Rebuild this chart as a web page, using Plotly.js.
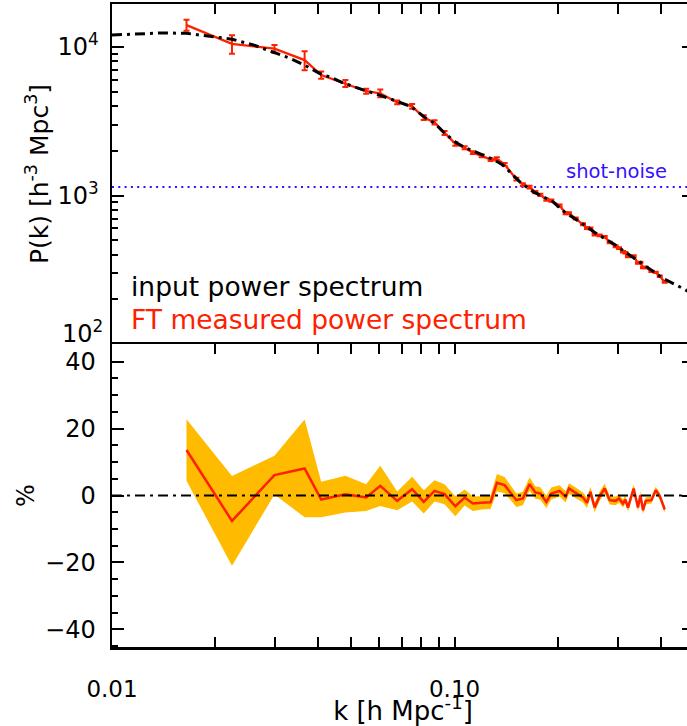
<!DOCTYPE html>
<html><head><meta charset="utf-8">
<script src="https://cdn.plot.ly/plotly-3.0.1.min.js"></script>
<style>html,body{margin:0;padding:0;overflow:hidden;width:687px;height:726px;background:#fff}#chart{width:700px;height:726px}</style>
</head><body><div id="chart"></div>
<script>
// Input (theory) power spectrum
const kInput = [0.010, 0.012, 0.014, 0.0165, 0.019, 0.0224, 0.026, 0.0298, 0.0333, 0.0365, 0.0408, 0.0431, 0.0477, 0.055, 0.0604, 0.0683, 0.0747, 0.0826, 0.0875, 0.0936, 0.1012, 0.1069, 0.113, 0.121, 0.1294, 0.1384, 0.1465, 0.155, 0.162, 0.1695, 0.1937, 0.212, 0.232, 0.259, 0.29, 0.324, 0.363, 0.406, 0.454, 0.50];
const pInput = [12050, 12300, 12450, 12380, 11900, 11300, 10300, 9200, 8350, 7550, 6560, 6310, 5690, 5080, 4750, 4290, 3966, 3311, 3063, 2623, 2270, 2113, 1995, 1875, 1754, 1604, 1409, 1239, 1146, 1062, 908, 758, 666, 556, 476, 397, 331, 277, 243, 215];

// FT measured power spectrum
const kMeasured = [0.0165, 0.0224, 0.0298, 0.0365, 0.0408, 0.0480, 0.0552, 0.0607, 0.0680, 0.0752, 0.0813, 0.0874, 0.0935, 0.1005, 0.1070, 0.1131, 0.1200, 0.1274, 0.1329, 0.1400, 0.1515, 0.1583, 0.1656, 0.1721, 0.1780, 0.1853, 0.1916, 0.2026, 0.2110, 0.2158, 0.2257, 0.2371, 0.2436, 0.2492, 0.2564, 0.2652, 0.2743, 0.2837, 0.2954, 0.3020, 0.3102, 0.3152, 0.3208, 0.3333, 0.3431, 0.3487, 0.3549, 0.3614, 0.3755, 0.3866, 0.3972, 0.4108];
const pMeasured = [14060, 10500, 9750, 8170, 6480, 5690, 5040, 4880, 4240, 3990, 3350, 3110, 2640, 2230, 2100, 1945, 1850, 1745, 1765, 1620, 1290, 1185, 1140, 1055, 1010, 940, 925, 855, 760, 760, 700, 640, 605, 600, 547, 539, 527, 483, 455, 443, 418, 412, 389, 391, 351, 354, 328, 328, 309, 304, 286, 262];
const pMeasuredErr = [1200, 1500, 580, 1200, 370, 310, 200, 290, 120, 150, 117, 100, 79, 67, 50, 43, 37, 35, 46, 39, 26, 24, 23, 20, 19, 17, 17, 15, 13, 12, 11, 10, 9, 9, 8, 8, 7, 6, 6, 6, 5, 5, 5, 5, 4, 4, 4, 4, 3, 3, 3, 3];

// Percent difference (measured vs input) and its 1-sigma half width
const pctDiff = [13.6, -7.6, 6.1, 8.1, -1.2, 0.4, -0.6, 2.9, -1.6, 1.9, -1.9, 1.4, 0.4, -3.2, -0.6, -2.4, -2.2, -2.0, 3.8, 3.1, -1.4, -0.9, 3.4, 0.9, 0.6, -1.9, 0.6, 1.4, -0.4, 2.1, 0.8, -0.6, -2.2, 1.1, -3.6, -0.2, 2.1, -1.4, -1.6, -0.9, -2.4, -1.2, -3.6, 2.1, -3.6, 0.1, -4.4, -1.6, -1.4, 1.6, -0.2, -4.2];
const pctErr = [9.2, 13.4, 5.8, 14.6, 5.3, 5.5, 4.0, 6.0, 2.8, 3.7, 3.5, 3.2, 3.0, 3.0, 2.4, 2.2, 2.0, 2.0, 2.6, 2.4, 2.0, 2.0, 2.0, 1.9, 1.9, 1.8, 1.8, 1.7, 1.7, 1.6, 1.6, 1.5, 1.5, 1.5, 1.4, 1.4, 1.4, 1.3, 1.3, 1.3, 1.2, 1.2, 1.2, 1.2, 1.1, 1.1, 1.1, 1.1, 1.0, 1.0, 1.0, 1.0];

const shotNoiseLevel = 1140;
const zeroLevel = 0;
// x ticks: every 1..9 x 10^n, labels only on decades
const xAllTickVals = [0.01, 0.02, 0.03, 0.04, 0.05, 0.06, 0.07, 0.08, 0.09, 0.1, 0.2, 0.3, 0.4, 0.5];
const xAllTickText = ['0.01', '', '', '', '', '', '', '', '', '0.10', '', '', '', ''];
const xDecadeTickVals = [0.01, 0.1];
const pTickVals = [100, 1000, 10000];
const pTickText = ['', '10<sup>3</sup>', '10<sup>4</sup>'];
const pBottomLabel = '10<sup>2</sup>';
const kRange = [0.01, 0.5];
const pRange = [100, 19500];
const pctRange = [-45.3, 45.3];
const pctTickVals = [-40, -20, 0, 20, 40];

const RED = '#ff2000', BAND = '#ffbb00', BLUE = '#3311ff';
const FONT = 'DejaVu Sans';

const bandLow = pctDiff.map((v, i) => v - pctErr[i]);
const bandHigh = pctDiff.map((v, i) => v + pctErr[i]);

const traces = [
  {x: kMeasured, y: bandLow, xaxis: 'x', yaxis: 'y', mode: 'lines', line: {width: 0, color: BAND}, showlegend: false, hoverinfo: 'skip'},
  {x: kMeasured, y: bandHigh, xaxis: 'x', yaxis: 'y', mode: 'lines', line: {width: 0, color: BAND}, fill: 'tonexty', fillcolor: BAND, showlegend: false, hoverinfo: 'skip'},
  {x: kMeasured, y: pctDiff, xaxis: 'x', yaxis: 'y', mode: 'lines', line: {color: RED, width: 2.5}, showlegend: false},
  {x: kMeasured, y: pMeasured, xaxis: 'x2', yaxis: 'y2', mode: 'lines', line: {color: RED, width: 2.3},
   error_y: {type: 'data', array: pMeasuredErr, visible: true, color: RED, thickness: 2, width: 3}, showlegend: false},
  {x: kInput, y: pInput, xaxis: 'x2', yaxis: 'y2', mode: 'lines', line: {color: 'black', width: 3, dash: '10px,5px,3px,5px'}, showlegend: false}
];

const logR = r => [Math.log10(r[0]), Math.log10(r[1])];
const splitY = 0.4712;

const common = {showline: true, linecolor: 'black', linewidth: 2.5, ticks: 'inside', tickcolor: 'black', tickwidth: 2, showgrid: false, zeroline: false};
const tickOnly = {showline: false, ticks: 'inside', tickcolor: 'black', tickwidth: 2, showgrid: false, zeroline: false, showticklabels: false, type: 'log', range: logR(kRange), tickmode: 'array', tickvals: xDecadeTickVals, ticklen: 20};

const layout = {
  width: 700, height: 726,
  margin: {l: 112, r: 6, t: 4, b: 79},
  paper_bgcolor: 'white', plot_bgcolor: 'white',
  font: {family: FONT, size: 22, color: 'black'},
  showlegend: false,
  xaxis: Object.assign({}, common, {
    type: 'log', range: logR(kRange), domain: [0, 1], anchor: 'y', mirror: 'ticks',
    tickmode: 'array', tickvals: xAllTickVals, ticktext: xAllTickText, ticklen: 10,
    ticklabelstandoff: 20, tickfont: {size: 23},
    title: {text: 'k [h Mpc<sup>-1</sup>]', standoff: 11, font: {size: 26}}
  }),
  xaxis3: Object.assign({}, tickOnly, {overlaying: 'x', anchor: 'y', side: 'bottom', mirror: 'ticks'}),
  yaxis: Object.assign({}, common, {
    range: pctRange, domain: [0, splitY], anchor: 'x', mirror: 'ticks',
    tickmode: 'array', tickvals: pctTickVals, ticklen: 12, ticklabelstandoff: 9, tickfont: {size: 24},
    minor: {tickmode: 'linear', dtick: 5, tick0: 0, ticks: 'inside', ticklen: 6, tickwidth: 2, tickcolor: 'black'},
    title: {text: '%', standoff: 4, font: {size: 24}}
  }),
  xaxis2: Object.assign({}, common, {
    type: 'log', range: logR(kRange), domain: [0, 1], anchor: 'y2', side: 'top', mirror: false,
    tickmode: 'array', tickvals: xAllTickVals, ticklen: 10, showticklabels: false
  }),
  xaxis4: Object.assign({}, tickOnly, {overlaying: 'x2', anchor: 'y2', side: 'top'}),
  yaxis2: Object.assign({}, common, {
    type: 'log', range: logR(pRange), domain: [splitY, 1], anchor: 'x2', mirror: 'ticks',
    tickmode: 'array', tickvals: pTickVals, ticktext: pTickText, ticklen: 12, ticklabelstandoff: 6, tickfont: {size: 24},
    minor: {dtick: 'D1', ticks: 'inside', ticklen: 6, tickwidth: 2, tickcolor: 'black'},
    title: {text: 'P(k) [h<sup>-3</sup> Mpc<sup>3</sup>]', standoff: 2, font: {size: 25}}
  }),
  shapes: [
    {type: 'line', xref: 'x2 domain', x0: 0, x1: 1, yref: 'y2', y0: shotNoiseLevel, y1: shotNoiseLevel, line: {color: BLUE, width: 2, dash: '2px,4.3px'}, layer: 'below'},
    {type: 'line', xref: 'x domain', x0: 0, x1: 1, yref: 'y', y0: zeroLevel, y1: zeroLevel, line: {color: 'black', width: 2, dash: '10px,5px,3px,5px'}, layer: 'above'}
  ],
  annotations: [
    {text: pBottomLabel, xref: 'x2 domain', yref: 'y2 domain', x: 0, y: 0, xanchor: 'right', yanchor: 'middle', xshift: -7, yshift: 12, showarrow: false, font: {size: 24, color: 'black'}},
    {text: 'input power spectrum', xref: 'x2 domain', yref: 'y2 domain', x: 0.03, y: 0.168, xanchor: 'left', yanchor: 'middle', showarrow: false, font: {size: 26.5, color: 'black'}},
    {text: 'FT measured power spectrum', xref: 'x2 domain', yref: 'y2 domain', x: 0.03, y: 0.071, xanchor: 'left', yanchor: 'middle', showarrow: false, font: {size: 26.5, color: RED}},
    {text: 'shot-noise', xref: 'x2 domain', yref: 'y2 domain', x: 0.866, y: 0.506, xanchor: 'center', yanchor: 'middle', showarrow: false, font: {size: 19.5, color: BLUE}}
  ]
};

Plotly.newPlot('chart', traces, layout, {displayModeBar: false, staticPlot: true});
</script>
</body></html>
